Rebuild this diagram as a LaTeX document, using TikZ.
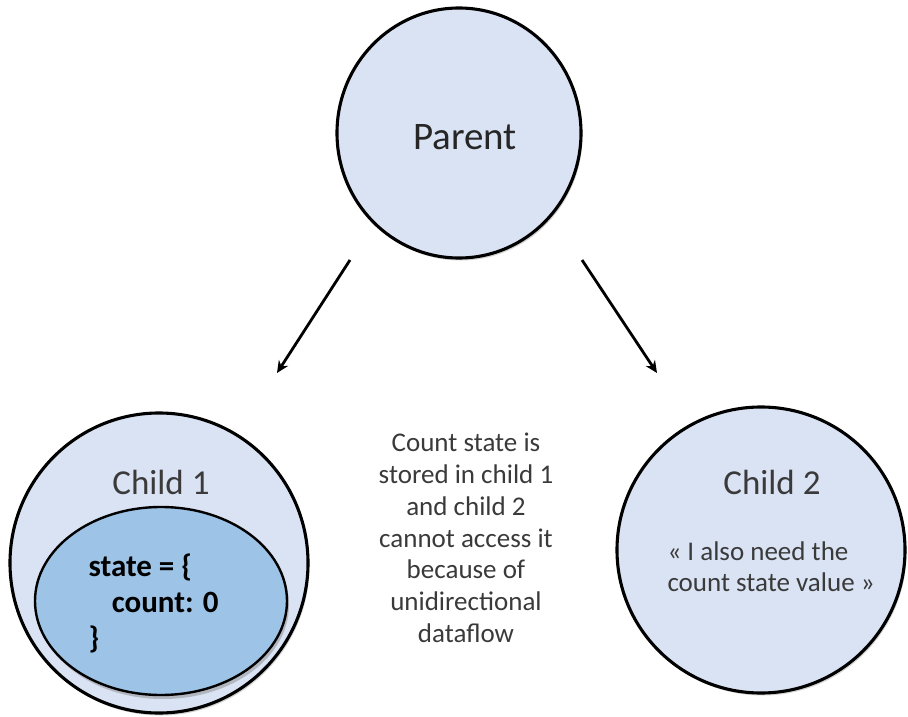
\documentclass[tikz,border=0pt]{standalone}
\usepackage{fontspec}
\setmainfont{Carlito}
\usetikzlibrary{arrows.meta,shadows}
\definecolor{paleblue}{HTML}{DAE3F3}
\definecolor{midblue}{HTML}{9DC3E6}
\definecolor{labelgrey}{HTML}{3A3A3A}
\begin{document}
\begin{tikzpicture}[x=1pt,y=-1pt,
  bubble/.style={draw=black, line width=3.1pt, fill=paleblue,
    drop shadow={shadow xshift=1.5pt, shadow yshift=-2.5pt, opacity=0.35}},
  flow/.style={-{Stealth[length=12pt,width=11pt]}, line width=2.8pt, black},
  caption/.style={text=labelgrey, align=center, font=\fontsize{27}{31.8}\selectfont}
]
\useasboundingbox (0,0) rectangle (908,717);

% the three components
\draw[bubble] (459,133) ellipse [x radius=122, y radius=125];
\node[text=black!85, font=\fontsize{39}{44}\selectfont] (parent) at (465,137) {Parent};

\draw[bubble] (159,563) ellipse [x radius=149, y radius=150];
\node[text=labelgrey, font=\fontsize{35}{40}\selectfont] (child1) at (161,482) {Child 1};

\draw[bubble] (761,550) ellipse [x radius=144, y radius=143];
\node[text=labelgrey, font=\fontsize{35}{40}\selectfont] (child2) at (772,482) {Child 2};

% state held inside child 1
\draw[draw=black, line width=2.4pt, fill=midblue,
  drop shadow={shadow xshift=2pt, shadow yshift=-4pt, opacity=0.45}]
  (161,601) ellipse [x radius=126, y radius=94];
\node[anchor=west, font=\bfseries\fontsize{31}{36}\selectfont, align=left] (state) at (85,603)
  {state = \{\\\hspace{0.75em}count: 0\\\}};

% remark inside child 2
\node[caption, anchor=west, align=left, font=\fontsize{27}{31}\selectfont] (remark) at (664,567)
  {« I also need the\\count state value »};

% explanation between the children
\node[caption] (note) at (466,538)
  {Count state is\\stored in child 1\\and child 2\\cannot access it\\because of\\unidirectional\\dataflow};

% data flows down from the parent
\coordinate (l0) at (350,260);
\coordinate (l1) at (277,373);
\coordinate (r0) at (582,260);
\coordinate (r1) at (657,373);
\draw[flow] (l0) -- (l1);
\draw[flow] (r0) -- (r1);
\end{tikzpicture}
\end{document}
